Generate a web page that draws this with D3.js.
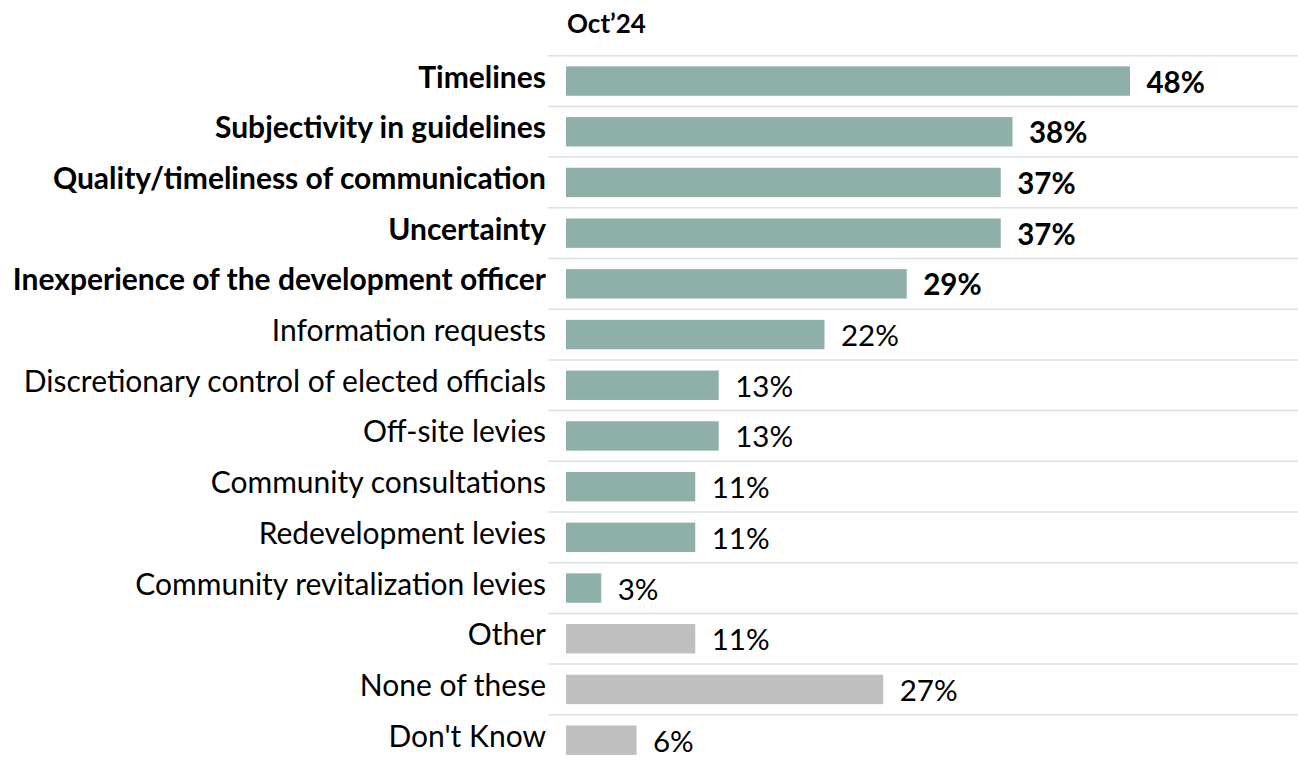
<!DOCTYPE html>
<html><head><meta charset="utf-8">
<script src="https://cdn.jsdelivr.net/npm/d3@7"></script>
<style>body{margin:0;background:#fff}svg{display:block}</style>
</head><body>
<svg id="c" width="1298" height="763"></svg>
<script>
const title = "Oct\u201924";
const categories = ["Timelines","Subjectivity in guidelines","Quality/timeliness of communication","Uncertainty","Inexperience of the development officer","Information requests","Discretionary control of elected officials","Off-site levies","Community consultations","Redevelopment levies","Community revitalization levies","Other","None of these","Don't Know"];
const values = [48,38,37,37,29,22,13,13,11,11,3,11,27,6];
const bold = [true,true,true,true,true,false,false,false,false,false,false,false,false,false];
const groups = ["main","main","main","main","main","main","main","main","main","main","main","other","other","other"];

const svg = d3.select("#c");
const font = "Lato, 'Open Sans', sans-serif";
const x = d3.scaleLinear().domain([0,48]).range([566,1130]);
const y = d3.scaleBand().domain(categories).range([55.7, 55.7+14*50.7]).paddingInner(0.42).paddingOuter(0.21);
const color = d3.scaleOrdinal().domain(["main","other"]).range(["#8fb0a9","#bfbfbf"]);
const gap = (y.step()-y.bandwidth())/2;

svg.append("g").selectAll("line").data(categories).join("line")
  .attr("x1",548).attr("x2",1298)
  .attr("y1",d=>y(d)-gap).attr("y2",d=>y(d)-gap)
  .attr("stroke","#d9e4e1").attr("stroke-width",1.5);

svg.append("text").attr("x",567).attr("y",33).text(title)
  .attr("font-family",font).attr("font-weight","bold").attr("font-size",26).attr("fill","#000");

svg.append("g").selectAll("rect").data(categories).join("rect")
  .attr("x",x(0)).attr("y",d=>y(d)).attr("height",y.bandwidth())
  .attr("width",(d,i)=>x(values[i])-x(0))
  .attr("fill",(d,i)=>color(groups[i]));

svg.append("g").selectAll("text").data(categories).join("text")
  .attr("x",546).attr("y",d=>y(d)+y.bandwidth()/2+6.5)
  .attr("text-anchor","end").attr("font-family",font).attr("font-size",30)
  .attr("font-weight",(d,i)=>bold[i]?"bold":"normal").attr("fill","#000")
  .text(d=>d);

svg.append("g").selectAll("text").data(categories).join("text")
  .attr("x",(d,i)=>x(values[i])+16.5).attr("y",d=>y(d)+y.bandwidth()/2+11.5)
  .attr("font-family",font).attr("font-size",29.5)
  .attr("font-weight",(d,i)=>bold[i]?"bold":"normal").attr("fill","#000")
  .text((d,i)=>values[i]+"%");
</script>
</body></html>
